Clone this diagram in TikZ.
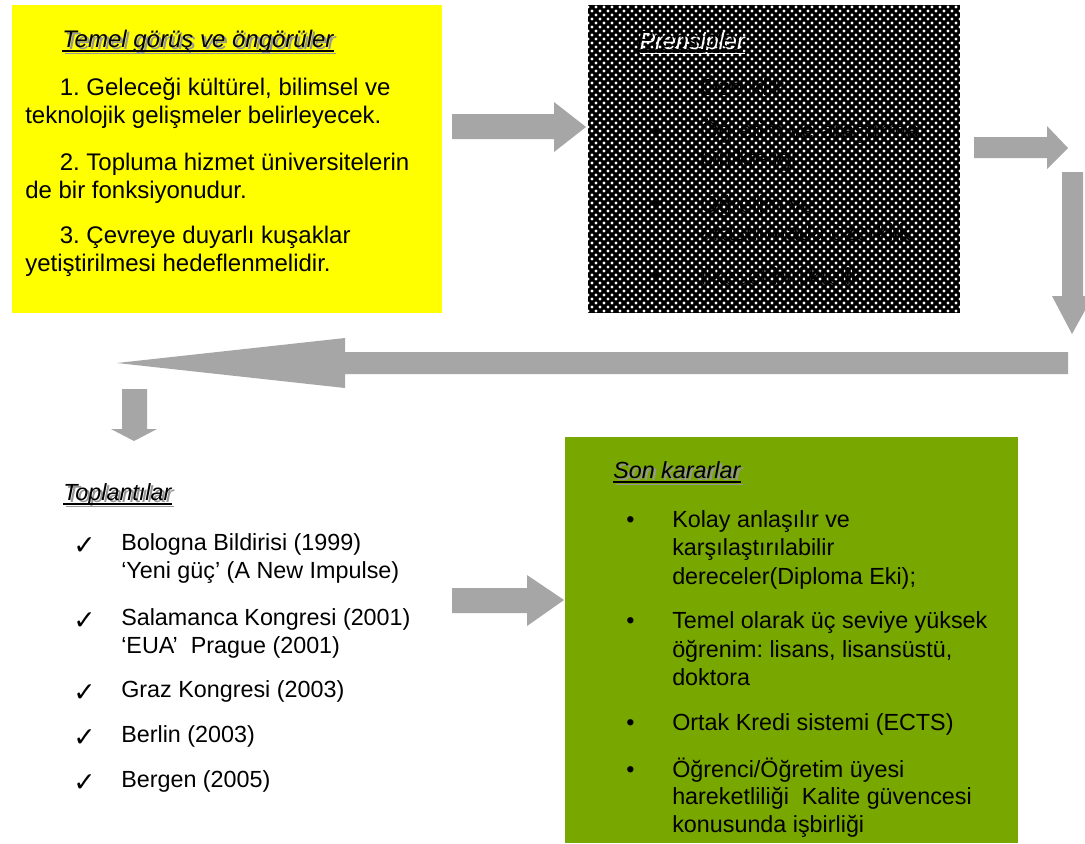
\documentclass[tikz,border=0pt]{standalone}
\usepackage{fontspec}
\setmainfont{Liberation Sans}
\newfontfamily\dejavu{DejaVu Sans}
\usetikzlibrary{patterns}
\pgfdeclarepatternformonly{bigdots}{\pgfqpoint{-1.5pt}{-1.5pt}}{\pgfqpoint{4.5pt}{4.5pt}}{\pgfqpoint{6pt}{6pt}}{%
  \pgfpathcircle{\pgfqpoint{0pt}{0pt}}{1.25pt}%
  \pgfpathcircle{\pgfqpoint{3pt}{3pt}}{1.25pt}%
  \pgfusepath{fill}}
\newlength\pxl \setlength\pxl{0.75pt}
\newcommand\mainfs{\frenchspacing\fontsize{17.5pt}{21pt}\selectfont}
\newcommand\yellowfs{\frenchspacing\fontsize{18pt}{21pt}\selectfont}
\definecolor{arrowgray}{RGB}{166,166,166}
\definecolor{boxyellow}{RGB}{255,255,0}
\definecolor{boxgreen}{RGB}{120,167,0}
\definecolor{shadowgray}{RGB}{150,150,150}
\tikzset{
  txt/.style={anchor=base west, inner sep=0pt, font=\mainfs},
  ytxt/.style={txt, font=\yellowfs},
  head/.style={txt, font=\mainfs\itshape},
  yhead/.style={txt, font=\yellowfs\itshape},
  chk/.style={anchor=base west, inner sep=0pt, font=\dejavu\fontsize{20pt}{22pt}\selectfont},
  blockarrow/.style={fill=arrowgray, draw=none},
  panel/.style={anchor=north west, inner sep=0pt, draw=none, minimum width=#1},
}
\newcommand\mkhead[6][head]{%
  \node[#1, text=#6] (#2s) at (#3+2.5,#4+2.5) {#5};
  \draw[#6, line width=1.1pt] ([yshift=-3pt]#2s.base west) -- ([yshift=-3pt]#2s.base east);
  \node[#1] (#2) at (#3,#4) {#5};
  \draw[line width=1.1pt] ([yshift=-3pt]#2.base west) -- ([yshift=-3pt]#2.base east);
}
\begin{document}
\begin{tikzpicture}[x=0.75pt,y=-0.75pt]
\useasboundingbox (0,0) rectangle (1085,843);
\fill[white] (0,0) rectangle (1085,843);
% panels
\node[panel=430\pxl, minimum height=308\pxl, fill=boxyellow] (yellowbox) at (12,5) {};
\node[panel=372\pxl, minimum height=308\pxl, fill=black] (blackbox) at (588,5) {};
\fill[pattern=bigdots, pattern color=white] (blackbox.north west) rectangle (blackbox.south east);
\node[panel=453\pxl, minimum height=406\pxl, fill=boxgreen] (greenbox) at (565,437) {};
% block arrows
\fill[blockarrow] (452,114) -- (554,114) -- (554,102) -- (586,127) -- (554,152) -- (554,139) -- (452,139) -- cycle;
\fill[blockarrow] (974,137) -- (1047,137) -- (1047,126) -- (1068,148) -- (1047,169) -- (1047,158) -- (974,158) -- cycle;
\fill[blockarrow] (1062,172) -- (1083,172) -- (1083,296) -- (1093,296) -- (1072,334) -- (1052,296) -- (1062,296) -- cycle;
\fill[blockarrow] (1068,352) -- (345,352) -- (345,338) -- (117,363) -- (345,388) -- (345,374) -- (1068,374) -- cycle;
\fill[blockarrow] (122,389) -- (147,389) -- (147,429) -- (157,429) -- (134,441) -- (111,429) -- (122,429) -- cycle;
\fill[blockarrow] (452,588) -- (527,588) -- (527,575) -- (564,600) -- (527,626) -- (527,613) -- (452,613) -- cycle;
% yellow panel
\mkhead[yhead]{hTemel}{62}{47}{Temel görüş ve öngörüler}{shadowgray}
\node[ytxt] (y1a) at (59.5,95) {1. Geleceği kültürel, bilimsel ve};
\node[ytxt] (y1b) at (25,123) {teknolojik gelişmeler belirleyecek.};
\node[ytxt] (y2a) at (59.5,170) {2. Topluma hizmet üniversitelerin};
\node[ytxt] (y2b) at (25,198) {de bir fonksiyonudur.};
\node[ytxt] (y3a) at (59.5,243) {3. Çevreye duyarlı kuşaklar};
\node[ytxt] (y3b) at (25,271) {yetiştirilmesi hedeflenmelidir.};
% black panel
\mkhead{hPrens}{637}{47}{Prensipler}{white}
\node[txt] (pb1) at (652,95) {•};
\node[txt] (pb2) at (652,138) {•};
\node[txt] (pb3) at (652,212) {•};
\node[txt] (pb4) at (652,284) {•};
\node[txt] (p1) at (700,95) {Özerklik};
\node[txt] (p2a) at (700,138) {Öğretim ve araştırma};
\node[txt] (p2b) at (700,166) {birlikteliği};
\node[txt] (p3a) at (700,212) {Öğretim ve};
\node[txt] (p3b) at (700,240) {araştırmada özerklik};
\node[txt] (p4) at (700,284) {İlkesel birliktelik};
% meetings
\mkhead{hTop}{63}{500}{Toplantılar}{shadowgray}
\node[chk] (c1) at (73,554) {✓};
\node[chk] (c2) at (73,629) {✓};
\node[chk] (c3) at (73,701) {✓};
\node[chk] (c4) at (73,746) {✓};
\node[chk] (c5) at (73,791) {✓};
\node[txt] (t1a) at (121,550) {Bologna Bildirisi (1999)};
\node[txt] (t1b) at (121,578) {‘Yeni güç’ (A New Impulse)};
\node[txt] (t2a) at (121,625) {Salamanca Kongresi (2001)};
\node[txt] (t2b) at (121,653) {‘EUA’\ \ Prague (2001)};
\node[txt] (t3) at (121,697) {Graz Kongresi (2003)};
\node[txt] (t4) at (121,742) {Berlin (2003)};
\node[txt] (t5) at (121,787) {Bergen (2005)};
% green panel
\mkhead{hSon}{613}{478}{Son kararlar}{shadowgray}
\node[txt] (gb1) at (626,527) {•};
\node[txt] (gb2) at (626,628) {•};
\node[txt] (gb3) at (626,730) {•};
\node[txt] (gb4) at (626,777) {•};
\node[txt] (g1a) at (672,527) {Kolay anlaşılır ve};
\node[txt] (g1b) at (672,555) {karşılaştırılabilir};
\node[txt] (g1c) at (672,584) {dereceler(Diploma Eki);};
\node[txt] (g2a) at (672,628) {Temel olarak üç seviye yüksek};
\node[txt] (g2b) at (672,657) {öğrenim: lisans, lisansüstü,};
\node[txt] (g2c) at (672,685) {doktora};
\node[txt] (g3) at (672,730) {Ortak Kredi sistemi (ECTS)};
\node[txt] (g4a) at (672,777) {Öğrenci/Öğretim üyesi};
\node[txt] (g4b) at (672,804) {hareketliliği\ \ Kalite güvencesi};
\node[txt] (g4c) at (672,832) {konusunda işbirliği};
\end{tikzpicture}
\end{document}
